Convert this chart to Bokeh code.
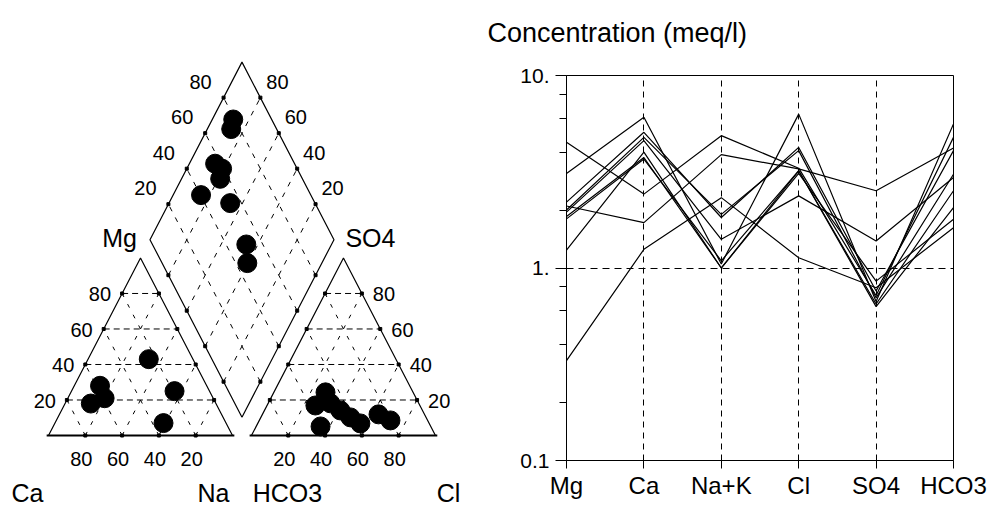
import numpy as np
from bokeh.plotting import figure
from bokeh.layouts import row
from bokeh.models import Range1d, FixedTicker, Title
from bokeh.core.properties import value
from bokeh.embed import file_html
from bokeh.resources import INLINE

# ---------------- Piper data (percent of meq) ----------------
cation_ca = [24, 58, 68, 59, 19, 34]
cation_mg = [43, 28, 18, 21, 25, 7]
cation_na = [33, 14, 14, 20, 56, 59]

anion_hco3 = [47.6, 56.8, 48.0, 44.6, 41.1, 37.4, 59.9, 25.0, 20.2]
anion_so4 = [24.3, 16.9, 18.1, 14.1, 10.2, 6.8, 5.1, 11.9, 8.5]
anion_cl = [28.1, 26.3, 33.9, 41.3, 48.7, 55.8, 35.0, 63.1, 71.3]

diamond_camg = [88.6, 87.0, 86.0, 80.8, 79.0, 84.8, 66.7, 46.3, 40.5]
diamond_so4cl = [79.1, 75.3, 56.8, 59.2, 55.3, 40.3, 53.9, 51.0, 46.3]

scale_ticks = [20, 40, 60, 80]

# ---------------- Schoeller data (meq/l) ----------------
ions = ["Mg", "Ca", "Na+K", "Cl", "SO4", "HCO3"]
mg = [4.5, 3.1, 2.2, 2.1, 2.0, 1.95, 1.85, 1.8, 1.24, 0.33]
ca = [2.42, 6.07, 5.07, 1.72, 4.77, 4.59, 3.75, 3.68, 4.0, 1.25]
nak = [4.87, 1.05, 1.83, 3.88, 1.9, 1.41, 1.0, 1.09, 1.0, 2.32]
cl = [3.3, 6.3, 4.23, 3.27, 4.07, 2.37, 3.2, 3.2, 3.1, 1.13]
so4 = [0.72, 0.67, 0.76, 2.52, 0.70, 1.38, 0.65, 0.63, 0.855, 0.79]
hco3 = [4.77, 5.6, 4.07, 4.2, 3.07, 2.95, 2.52, 2.06, 1.79, 1.62]
y_major = [0.1, 1, 10]
y_major_labels = ["0.1", "1.", "10."]
y_minor = [0.2, 0.4, 0.6, 0.8, 2, 4, 6, 8]

FONT = value("Liberation Sans")

# ---------------- Piper geometry ----------------
SIDE = 100.0
H = SIDE * np.sqrt(3) / 2
GAP = 10.3
AX0 = SIDE + GAP
BX, BY = SIDE + GAP / 2, GAP * np.sqrt(3) / 2


def cation_xy(c, m, n):
    c, m, n = map(np.asarray, (c, m, n))
    t = c + m + n
    m = m / t * 100
    n = n / t * 100
    return n + m / 2, m * H / 100


def anion_xy(h, s, c):
    h, s, c = map(np.asarray, (h, s, c))
    t = h + s + c
    s = s / t * 100
    c = c / t * 100
    return AX0 + c + s / 2, s * H / 100


def diamond_xy(u, v):
    u, v = np.asarray(u, float), np.asarray(v, float)
    return BX + (v - u) / 2, BY + (u + v) * H / 100


XS, YS = 1.84, 2.05
X0, Y0 = 48, 435
W1, HGT = 484, 506
p1 = figure(width=W1, height=HGT,
            x_range=Range1d(-X0 / XS, (W1 - X0) / XS),
            y_range=Range1d((Y0 - HGT) / YS, Y0 / YS),
            x_axis_location=None, y_axis_location=None,
            output_backend="svg", toolbar_location=None, min_border=0)
p1.frame_align = False
p1.title.visible = False
p1.grid.visible = False
p1.outline_line_color = None


def grid_lines():
    hx, hy, sx, sy = [], [], [], []
    for p in scale_ticks:
        q = 100 - p
        for o in (0, AX0):
            hx.append([o + p / 2, o + 100 - p / 2]); hy.append([p * H / 100] * 2)
            sx.append([o + q, o + q / 2]); sy.append([0, q * H / 100])
            sx.append([o + p, o + p + q / 2]); sy.append([0, q * H / 100])
    dx, dy = [], []
    for p in scale_ticks:
        a = diamond_xy([p, p], [0, 100]); dx.append(list(a[0])); dy.append(list(a[1]))
        b = diamond_xy([0, 100], [p, p]); dx.append(list(b[0])); dy.append(list(b[1]))
    return hx, hy, sx, sy, dx, dy


hx, hy, sx, sy, dx, dy = grid_lines()
p1.multi_line(hx, hy, line_color="black", line_width=1, line_dash="6 4")
p1.multi_line(sx, sy, line_color="black", line_width=1, line_dash="4 8")
p1.multi_line(dx, dy, line_color="black", line_width=1, line_dash="5 7")

# outlines
p1.line([100, 50, 0], [0, H, 0], line_color="black", line_width=1.2)
p1.line([AX0, AX0 + 50, AX0 + 100], [0, H, 0], line_color="black", line_width=1.2)
p1.line([-1, 101], [0, 0], line_color="black", line_width=2)
p1.line([AX0 - 1, AX0 + 101], [0, 0], line_color="black", line_width=2)
dvx, dvy = diamond_xy([0, 0, 100, 100, 0], [0, 100, 100, 0, 0])
p1.line(dvx, dvy, line_color="black", line_width=1.2)

# edge tick dots
tp = np.array(scale_ticks, float)
ex = list(tp / 2) + list(100 - tp / 2) + list(tp) + list(AX0 + tp / 2) + list(AX0 + 100 - tp / 2) + list(AX0 + tp)
ey = list(tp * H / 100) * 2 + [0] * 4 + list(tp * H / 100) * 2 + [0] * 4
for uu, vv in [(tp, np.zeros(4)), (tp, np.full(4, 100.0)), (np.zeros(4), tp), (np.full(4, 100.0), tp)]:
    a = diamond_xy(uu, vv)
    ex += list(a[0]); ey += list(a[1])
p1.scatter(ex, ey, marker="square", size=3, color="black")

# sample points
cx, cy = cation_xy(cation_ca, cation_mg, cation_na)
ax_, ay_ = anion_xy(anion_hco3, anion_so4, anion_cl)
qx, qy = diamond_xy(diamond_camg, diamond_so4cl)
for X, Y in [(cx, cy), (ax_, ay_), (qx, qy)]:
    p1.scatter(X, Y, size=19, color="black", marker="circle")

# scale labels
lab = [str(t) for t in scale_ticks]
NUM = "20px"
common = dict(text_font=FONT, text_font_size=NUM, text_color="black", text_baseline="middle")
p1.text(tp / 2, tp * H / 100, lab, text_align="right", x_offset=-11, y_offset=1, **common)
p1.text(100 - tp, [0] * 4, lab, text_align="center", x_offset=-4, y_offset=23, **common)
p1.text(AX0 + tp, [0] * 4, lab, text_align="center", x_offset=-4, y_offset=23, **common)
p1.text(AX0 + 100 - tp / 2, tp * H / 100, lab, text_align="left", x_offset=11, y_offset=1, **common)
a = diamond_xy(np.full(4, 100.0), tp)
p1.text(a[0], a[1], lab, text_align="center", x_offset=-23, y_offset=-16, **common)
b = diamond_xy(tp, np.full(4, 100.0))
p1.text(b[0], b[1], lab, text_align="center", x_offset=17, y_offset=-16, **common)

# component titles
TT = "25px"
for txt, x0, y0, ox, oy in [("Ca", 0, 0, -21, 57), ("Na", 100, 0, -19, 57),
                            ("HCO3", AX0, 0, 36, 57), ("Cl", AX0 + 100, 0, 13, 57),
                            ("Mg", 50, H, -21, -20), ("SO4", AX0 + 50, H, 27, -20)]:
    p1.text([x0], [y0], [txt], text_font=FONT, text_font_size=TT, text_color="black",
            text_align="center", text_baseline="middle", x_offset=ox, y_offset=oy)

# ---------------- Schoeller ----------------
W2 = 990 - W1
p2 = figure(width=W2, height=HGT, x_range=Range1d(0, 5), y_range=Range1d(0.1, 10),
            y_axis_type="log", output_backend="svg", toolbar_location=None,
            min_border_left=566 - W1, min_border_right=990 - 953,
            min_border_top=75, min_border_bottom=HGT - 460)
p2.frame_align = False
xs = [list(range(len(ions)))] * len(mg)
ys = [list(r) for r in zip(mg, ca, nak, cl, so4, hco3)]
p2.multi_line(xs, ys, line_color="black", line_width=1.2)

p2.outline_line_color = "black"
p2.outline_line_alpha = 1
p2.outline_line_width = 1
p2.xgrid.ticker = FixedTicker(ticks=[1, 2, 3, 4])
p2.ygrid.ticker = FixedTicker(ticks=[1])
for g, d in [(p2.xgrid, "6 5"), (p2.ygrid, "7 5")]:
    g.grid_line_color = "black"
    g.grid_line_dash = d
    g.grid_line_width = 1
    g.grid_line_alpha = 1

p2.yaxis.ticker = FixedTicker(ticks=y_major, minor_ticks=y_minor)
p2.yaxis.major_label_overrides = {k: v for k, v in zip(y_major, y_major_labels)}
p2.yaxis.major_tick_out = 11
p2.yaxis.minor_tick_out = 7
p2.yaxis.major_tick_in = 0
p2.yaxis.minor_tick_in = 0
p2.yaxis.major_label_standoff = 6
p2.yaxis.major_label_text_font_size = "21px"

p2.xaxis.ticker = FixedTicker(ticks=list(range(len(ions))))
p2.xaxis.major_label_overrides = {i: n for i, n in enumerate(ions)}
p2.xaxis.major_tick_out = 8
p2.xaxis.major_tick_in = 0
p2.xaxis.minor_tick_out = 0
p2.xaxis.minor_tick_in = 0
p2.xaxis.major_label_standoff = 3
p2.xaxis.major_label_text_font_size = "24px"
for ax in [p2.xaxis, p2.yaxis]:
    ax.axis_line_color = "black"
    ax.major_tick_line_color = "black"
    ax.minor_tick_line_color = "black"
    ax.major_label_text_color = "black"
    ax.major_label_text_font = "Liberation Sans"

p2.title.text = "Concentration (meq/l)"
p2.title.align = "left"
p2.title.offset = 487 - 566
p2.title.vertical_align = "top"
p2.title.standoff = 0
p2.title.text_font = "Liberation Sans"
p2.title.text_font_size = "27px"
p2.title.text_font_style = "normal"
p2.title.text_color = "black"
# white spacer between the title and the frame
p2.add_layout(Title(text=".", text_font_size="10px", standoff=16, text_color="white"), "above")

layout = row(p1, p2)
open("out.html", "w").write(file_html(layout, INLINE))
